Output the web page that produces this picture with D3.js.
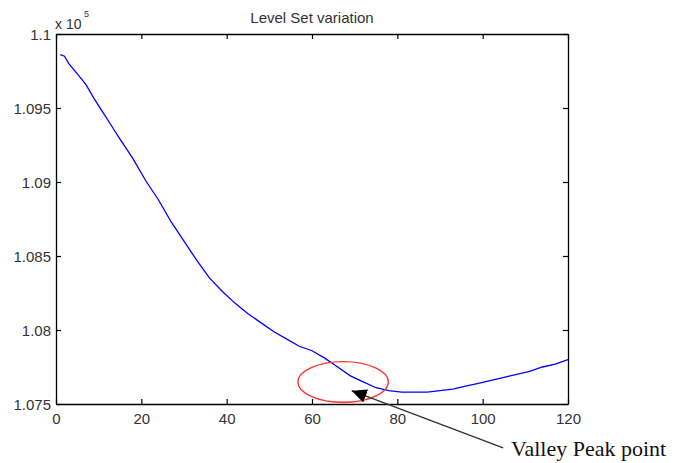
<!DOCTYPE html>
<html>
<head>
	<script src="https://cdn.jsdelivr.net/npm/d3@7"></script>
	<style>
		html, body {
			padding: 0;
			margin: 0;
			background: #ffffff;
		}
	</style>
</head>
<body>
	<script>
		// iteration number vs level set energy (x 10^5)
		var iterations = [1, 2, 3, 5, 7, 9, 11, 13, 15, 18, 21, 24, 27, 30, 33, 36, 39, 42, 45, 48, 51, 54, 57, 60,
			63, 66, 69, 72, 75, 78, 81, 84, 87, 90, 93, 96, 99, 102, 105, 108, 111, 114, 117, 120];
		var energy = [1.0986, 1.0985, 1.0980, 1.0973, 1.0966, 1.0956, 1.0947, 1.0938, 1.0929, 1.0916, 1.0901, 1.0888,
			1.0873, 1.0860, 1.0847, 1.0835, 1.0826, 1.0818, 1.0811, 1.0805, 1.0799, 1.0794, 1.0789, 1.0786,
			1.0781, 1.0775, 1.0769, 1.0765, 1.0761, 1.0759, 1.0758, 1.0758, 1.0758, 1.0759, 1.0760, 1.0762,
			1.0764, 1.0766, 1.0768, 1.0770, 1.0772, 1.0775, 1.0777, 1.0780];

		var xTicks = [0, 20, 40, 60, 80, 100, 120];
		var yTicks = [1.075, 1.08, 1.085, 1.09, 1.095, 1.1];
		var yTickLabels = ["1.075", "1.08", "1.085", "1.09", "1.095", "1.1"];

		// annotation: circled valley and arrow from label
		var valleyCenter = [67.3, 1.07649];
		var valleyRadius = [10.6, 0.00137];
		var arrowFrom = [104.8, 1.07203];
		var arrowTo = [69.3, 1.07590];

		var width = 680, height = 463;
		var margin = {top: 34, right: 112, bottom: 59, left: 56};
		var w = width - margin.left - margin.right;
		var h = height - margin.top - margin.bottom;

		var svg = d3.select('body').append('svg')
			.attr('width', width)
			.attr('height', height)
			.style('font-family', 'Liberation Sans, Arial, sans-serif');

		var x = d3.scaleLinear().domain([0, 120]).range([0, w]);
		var y = d3.scaleLinear().domain([1.075, 1.1]).range([h, 0]);

		var g = svg.append('g')
			.attr('transform', 'translate(' + margin.left + ',' + margin.top + ')');

		// box axes, ticks pointing inward like matlab
		var axBottom = g.append('g')
			.attr('transform', 'translate(0,' + h + ')')
			.call(d3.axisBottom(x).tickValues(xTicks).tickSizeInner(-5).tickSizeOuter(0).tickPadding(9));
		var axTop = g.append('g')
			.call(d3.axisTop(x).tickValues(xTicks).tickSizeInner(-5).tickSizeOuter(0).tickFormat(''));
		var axLeft = g.append('g')
			.call(d3.axisLeft(y).tickValues(yTicks).tickSizeInner(-5).tickSizeOuter(0).tickPadding(5)
				.tickFormat(function (d, i) { return yTickLabels[i]; }));
		var axRight = g.append('g')
			.attr('transform', 'translate(' + w + ',0)')
			.call(d3.axisRight(y).tickValues(yTicks).tickSizeInner(-5).tickSizeOuter(0).tickFormat(''));

		[axBottom, axTop, axLeft, axRight].forEach(function (a) {
			a.attr('font-size', null).attr('font-family', null);
			a.select('.domain').attr('stroke', '#000').attr('stroke-width', 1.3);
			a.selectAll('.tick line').attr('stroke', '#000').attr('stroke-width', 1.2);
			a.selectAll('.tick text')
				.attr('fill', '#333')
				.style('font-size', '15px')
				.style('font-family', 'Liberation Sans, Arial, sans-serif');
		});
		axLeft.selectAll('.tick text').attr('dy', '0.36em');

		// curve
		var line = d3.line()
			.x(function (d, i) { return x(iterations[i]); })
			.y(function (d) { return y(d); });

		g.append('path')
			.datum(energy)
			.attr('d', line)
			.attr('fill', 'none')
			.attr('stroke', '#0000ff')
			.attr('stroke-width', 1.3);

		// title and exponent
		svg.append('text')
			.attr('x', margin.left + w / 2)
			.attr('y', 23)
			.attr('text-anchor', 'middle')
			.attr('fill', '#333')
			.style('font-size', '15px')
			.text('Level Set variation');

		svg.append('text')
			.attr('x', margin.left - 1)
			.attr('y', 29)
			.attr('fill', '#333')
			.style('font-size', '14px')
			.text('x 10');
		svg.append('text')
			.attr('x', margin.left + 28)
			.attr('y', 17)
			.attr('fill', '#333')
			.style('font-size', '9px')
			.text('5');

		// annotation
		g.append('ellipse')
			.attr('cx', x(valleyCenter[0]))
			.attr('cy', y(valleyCenter[1]))
			.attr('rx', x(valleyRadius[0]) - x(0))
			.attr('ry', y(1.075) - y(1.075 + valleyRadius[1]))
			.attr('fill', 'none')
			.attr('stroke', '#ff3030')
			.attr('stroke-width', 1.4);

		svg.append('defs').append('marker')
			.attr('id', 'head')
			.attr('viewBox', '0 0 15 14')
			.attr('refX', 15)
			.attr('refY', 7)
			.attr('markerWidth', 15)
			.attr('markerHeight', 14)
			.attr('markerUnits', 'userSpaceOnUse')
			.attr('orient', 'auto')
			.append('path')
			.attr('d', 'M0,0L15,7L0,14Z')
			.attr('fill', '#000');

		g.append('line')
			.attr('x1', x(arrowFrom[0]))
			.attr('y1', y(arrowFrom[1]))
			.attr('x2', x(arrowTo[0]))
			.attr('y2', y(arrowTo[1]))
			.attr('stroke', '#333')
			.attr('stroke-width', 1.3)
			.attr('marker-end', 'url(#head)');

		svg.append('text')
			.attr('x', 511)
			.attr('y', 456)
			.attr('fill', '#111')
			.style('font-family', 'Liberation Serif, Times New Roman, serif')
			.style('font-size', '22px')
			.text('Valley Peak point');
	</script>
</body>
</html>
